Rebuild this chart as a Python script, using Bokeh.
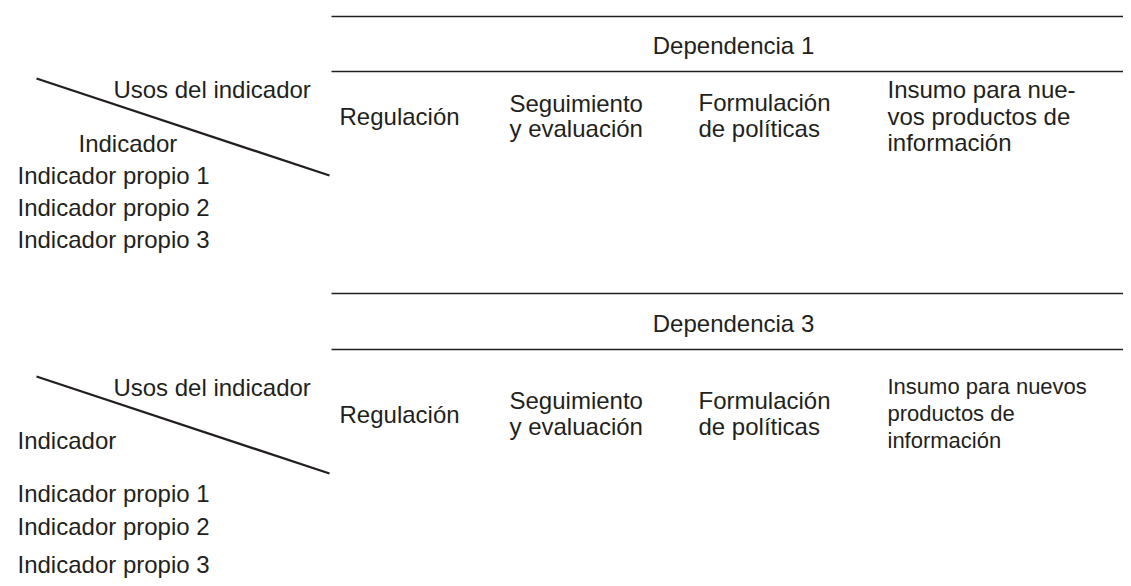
from bokeh.plotting import figure
from bokeh.models import Range1d, ColumnDataSource
from bokeh.core.properties import value
from bokeh.embed import file_html
from bokeh.resources import INLINE

# ---- content ----
dependencias = ["Dependencia 1", "Dependencia 3"]
encabezado_usos = "Usos del  indicador"
encabezado_indicador = "Indicador"
indicadores = ["Indicador propio 1", "Indicador propio 2", "Indicador propio 3"]
usos_dep1 = [["Regulación"], ["Seguimiento", "y evaluación"],
             ["Formulación", "de políticas"],
             ["Insumo para nue-", "vos productos de", "información"]]
usos_dep3 = [["Regulación"], ["Seguimiento", "y evaluación"],
             ["Formulación", "de políticas"],
             ["Insumo para nuevos", "productos de", "información"]]
usos_por_bloque = [usos_dep1, usos_dep3]

# ---- layout (picture pixel coordinates) ----
W, H = 1123, 578
INK = "#231f20"
FONT = value("Liberation Sans")
SIZE = "24px"
BASE_FIX = -7   # renderer draws alphabetic baseline a little low

TABLE_X0, TABLE_X1 = 331, 1140
TOP_LINE = [16, 293]
MID_LINE = [71, 349]
DEP_BASE = [52, 330]
DEP_CX = 733
DIAG = [(36, 78, 329, 175), (36, 376, 329, 473)]
USOS_RIGHT = 317
USOS_BASE = [96, 394]
IND_HDR = [(78, 150), (17, 447)]
ROW_X = 17
ROW_BASES = [[182, 214, 246], [500, 533, 571]]
COL_X = [339, 509, 698, 887]
COL_BASES = [
    [[123], [110, 135], [109, 135], [96, 123, 149]],
    [[421], [407, 433], [407, 433], [393, 420, 447]],
]
INSUMO_SIZE = [SIZE, "22px"]

p = figure(width=W, height=H, x_range=Range1d(0, W), y_range=Range1d(H, 0),
           output_backend="svg", toolbar_location=None, min_border=0,
           x_axis_location=None, y_axis_location=None)
p.grid.visible = False
p.outline_line_color = None
p.background_fill_color = "white"
p.border_fill_color = "white"

def txt(xs, ys, texts, align="left", size=SIZE):
    src = ColumnDataSource(dict(x=xs, y=[y + BASE_FIX for y in ys], t=texts))
    p.text(x="x", y="y", text="t", source=src, text_font=FONT,
           text_font_size=size, text_color=INK, text_align=align,
           text_baseline="alphabetic")

for b in range(2):
    # horizontal rules
    p.segment(x0=[TABLE_X0, TABLE_X0], y0=[TOP_LINE[b], MID_LINE[b]],
              x1=[TABLE_X1, TABLE_X1], y1=[TOP_LINE[b], MID_LINE[b]],
              line_color=INK, line_width=1.7)
    # diagonal header split
    x0, y0, x1, y1 = DIAG[b]
    p.segment(x0=[x0], y0=[y0], x1=[x1], y1=[y1], line_color=INK, line_width=2.3)
    # dependency title
    txt([DEP_CX], [DEP_BASE[b]], [dependencias[b]], align="center")
    # header labels
    txt([USOS_RIGHT], [USOS_BASE[b]], [encabezado_usos], align="right")
    txt([IND_HDR[b][0]], [IND_HDR[b][1]], [encabezado_indicador])
    # indicator rows
    txt([ROW_X] * len(indicadores), ROW_BASES[b], indicadores)
    # column headers
    for c, lines in enumerate(usos_por_bloque[b]):
        size = INSUMO_SIZE[b] if c == 3 else SIZE
        txt([COL_X[c]] * len(lines), COL_BASES[b][c], lines, size=size)

open("out.html", "w").write(file_html(p, INLINE))
